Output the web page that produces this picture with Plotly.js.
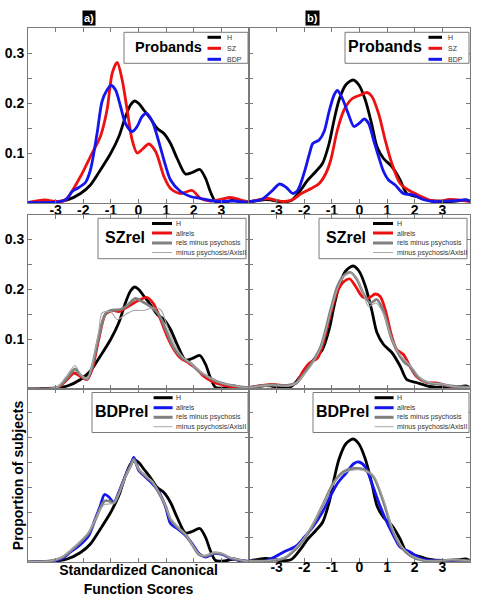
<!DOCTYPE html>
<html><head><meta charset="utf-8">
<script src="https://cdn.plot.ly/plotly-3.0.1.min.js"></script>
<style>html,body{margin:0;padding:0;background:#fff;} #chart{width:478px;height:599px;}</style>
</head><body><div id="chart"></div>
<script>
// ---------------- DATA ----------------
// Healthy controls, function a) (same curve shown in all left panels)
const Ha_x = [-4,-3.5,-3.0,-2.58,-2.1,-1.74,-1.38,-1.01,-0.71,-0.47,-0.29,-0.14,0.01,0.19,0.43,0.68,0.92,1.16,1.4,1.7,1.94,2.22,2.43,2.6,2.79,3.21,3.45,3.7,4];
const Ha_y = [0.001,0.001,0.002,0.006,0.019,0.036,0.066,0.099,0.133,0.173,0.196,0.204,0.199,0.186,0.169,0.149,0.139,0.119,0.089,0.058,0.061,0.067,0.049,0.023,0.003,0.003,0.006,0.002,0.001];
// Healthy controls, function b) (same curve shown in all right panels)
const Hb_x = [-4,-3.42,-3.19,-2.89,-2.47,-2.17,-1.87,-1.58,-1.34,-1.1,-0.92,-0.74,-0.5,-0.23,-0.02,0.21,0.45,0.63,0.87,1.17,1.47,1.71,2.06,2.54,3.02,3.5,3.85,4];
const Hb_y = [0.002,0.007,0.006,0.003,0.005,0.023,0.046,0.063,0.079,0.119,0.166,0.206,0.236,0.246,0.236,0.206,0.156,0.113,0.089,0.073,0.046,0.019,0.013,0.005,0.003,0.004,0.006,0.003];

// Probands a)
const SZa_x = [-4,-3.4,-2.95,-2.65,-2.1,-1.74,-1.38,-1.14,-0.95,-0.77,-0.59,-0.41,-0.23,-0.05,0.13,0.37,0.62,0.92,1.16,1.52,1.94,2.25,2.6,2.97,3.33,3.7,4];
const SZa_y = [0.001,0.006,0.003,0.006,0.053,0.093,0.133,0.186,0.26,0.281,0.246,0.186,0.126,0.10,0.107,0.118,0.103,0.053,0.029,0.019,0.025,0.009,0.004,0.007,0.011,0.006,0.002];
const BDPa_x = [-4,-2.83,-2.58,-2.4,-2.16,-1.92,-1.74,-1.5,-1.32,-1.14,-0.99,-0.83,-0.65,-0.47,-0.23,-0.05,0.13,0.29,0.5,0.68,0.92,1.16,1.52,1.88,2.25,2.6,2.97,3.45,4];
const BDPa_y = [0.001,0.003,0.009,0.023,0.031,0.041,0.066,0.139,0.203,0.226,0.235,0.226,0.193,0.159,0.143,0.153,0.173,0.179,0.163,0.133,0.086,0.046,0.023,0.013,0.009,0.005,0.003,0.004,0.001];
// Probands b)
const SZb_x = [-4,-3.31,-3.07,-2.71,-2.41,-2.11,-1.75,-1.46,-1.22,-1.04,-0.8,-0.56,-0.26,0.04,0.27,0.45,0.69,0.93,1.17,1.47,1.77,2.12,2.54,2.9,3.26,3.74,4];
const SZb_y = [0.002,0.009,0.006,0.003,0.007,0.019,0.029,0.039,0.059,0.086,0.146,0.186,0.209,0.216,0.221,0.213,0.179,0.126,0.079,0.039,0.026,0.016,0.006,0.004,0.007,0.005,0.003];
const BDPb_x = [-4,-3.54,-3.19,-2.89,-2.65,-2.41,-2.23,-1.99,-1.81,-1.69,-1.46,-1.28,-1.1,-0.92,-0.8,-0.62,-0.41,-0.2,-0.02,0.18,0.33,0.51,0.69,0.87,1.05,1.29,1.59,1.95,2.3,2.66,3.26,3.85,4];
const BDPb_y = [0.003,0.007,0.023,0.038,0.031,0.019,0.026,0.063,0.099,0.119,0.126,0.143,0.183,0.216,0.225,0.209,0.179,0.153,0.159,0.168,0.159,0.126,0.093,0.063,0.046,0.036,0.019,0.016,0.007,0.003,0.004,0.006,0.004];

// SZ relatives a)
const SZrelA_all_x = [-4,-2.95,-2.58,-2.34,-2.1,-1.86,-1.68,-1.44,-1.2,-0.95,-0.71,-0.47,-0.17,0.07,0.31,0.56,0.8,1.04,1.28,1.52,1.82,2.13,2.37,2.67,2.97,3.33,4];
const SZrelA_all_y = [0.001,0.002,0.019,0.032,0.025,0.019,0.039,0.099,0.149,0.157,0.155,0.162,0.172,0.179,0.183,0.169,0.139,0.105,0.079,0.062,0.052,0.039,0.025,0.015,0.009,0.005,0.002];
const SZrelA_mp_x = [-4,-2.95,-2.58,-2.3,-2.1,-1.86,-1.68,-1.44,-1.2,-1.01,-0.65,-0.41,-0.11,0.13,0.43,0.74,1.04,1.28,1.58,1.88,2.19,2.49,2.85,3.21,4];
const SZrelA_mp_y = [0.001,0.003,0.022,0.04,0.028,0.02,0.045,0.105,0.15,0.157,0.159,0.167,0.181,0.175,0.165,0.149,0.112,0.082,0.062,0.052,0.035,0.025,0.015,0.009,0.002];
const SZrelA_ax_x = [-4,-2.95,-2.58,-2.3,-2.1,-1.86,-1.68,-1.44,-1.32,-1.01,-0.77,-0.47,-0.17,0.19,0.5,0.8,1.04,1.34,1.64,1.94,2.25,2.6,3.0,3.4,4];
const SZrelA_ax_y = [0.001,0.004,0.028,0.047,0.03,0.02,0.048,0.115,0.152,0.155,0.139,0.149,0.157,0.157,0.162,0.159,0.125,0.085,0.062,0.049,0.035,0.022,0.012,0.007,0.002];
// SZ relatives b)
const SZrelB_all_x = [-4,-3.19,-2.59,-2.29,-2.05,-1.81,-1.52,-1.28,-1.04,-0.8,-0.56,-0.35,-0.14,0.1,0.33,0.57,0.75,0.93,1.17,1.35,1.59,1.83,2.06,2.42,2.78,3.14,3.62,4];
const SZrelB_all_y = [0.003,0.009,0.007,0.012,0.035,0.052,0.062,0.099,0.152,0.195,0.215,0.22,0.205,0.185,0.182,0.19,0.185,0.159,0.105,0.079,0.069,0.045,0.025,0.013,0.012,0.007,0.003,0.003];
const SZrelB_mp_x = [-4,-3.19,-2.59,-2.29,-1.99,-1.69,-1.4,-1.04,-0.8,-0.56,-0.32,-0.1,0.15,0.39,0.63,0.87,1.17,1.47,1.65,1.83,2.1,2.5,2.9,3.3,4];
const SZrelB_mp_y = [0.003,0.008,0.007,0.012,0.032,0.055,0.085,0.159,0.205,0.227,0.233,0.22,0.19,0.172,0.179,0.155,0.099,0.065,0.052,0.045,0.025,0.012,0.01,0.006,0.003];
const SZrelB_ax_x = [-4,-3.19,-2.59,-2.29,-1.99,-1.69,-1.4,-1.04,-0.8,-0.56,-0.32,-0.1,0.15,0.33,0.6,0.87,1.17,1.47,1.7,1.95,2.2,2.6,3.0,3.4,4];
const SZrelB_ax_y = [0.003,0.008,0.006,0.012,0.03,0.052,0.083,0.155,0.2,0.225,0.232,0.222,0.188,0.165,0.172,0.15,0.1,0.068,0.055,0.04,0.022,0.012,0.01,0.005,0.003];

// BDP relatives a)
const BDPrelA_x = [-4,-3.19,-2.77,-2.46,-2.1,-1.8,-1.56,-1.38,-1.23,-1.07,-0.89,-0.71,-0.47,-0.29,-0.17,0.01,0.25,0.5,0.74,0.98,1.16,1.4,1.7,1.94,2.19,2.43,2.73,3.03,3.33,4];
const BDPrelA_all_y = [0.001,0.001,0.007,0.02,0.035,0.053,0.087,0.113,0.135,0.13,0.119,0.14,0.173,0.193,0.209,0.183,0.17,0.157,0.14,0.11,0.077,0.067,0.053,0.037,0.017,0.01,0.017,0.015,0.007,0.001];
const BDPrelA_mp_y = [0.001,0.002,0.009,0.022,0.04,0.058,0.085,0.108,0.122,0.122,0.118,0.138,0.172,0.192,0.205,0.185,0.172,0.16,0.138,0.112,0.085,0.07,0.055,0.035,0.015,0.012,0.018,0.016,0.008,0.001];
const BDPrelA_ax_y = [0.001,0.002,0.01,0.024,0.042,0.06,0.085,0.105,0.115,0.116,0.118,0.135,0.17,0.19,0.203,0.186,0.173,0.161,0.14,0.112,0.088,0.072,0.055,0.035,0.016,0.013,0.019,0.017,0.009,0.001];
// BDP relatives b)
const BDPrelB_all_x = [-4,-3.42,-3.07,-2.71,-2.29,-1.99,-1.69,-1.34,-1.04,-0.8,-0.5,-0.2,-0.02,0.21,0.45,0.69,0.93,1.23,1.47,1.83,2.18,2.54,3.02,3.5,4];
const BDPrelB_all_y = [0.002,0.002,0.01,0.021,0.032,0.05,0.07,0.1,0.133,0.157,0.177,0.197,0.2,0.19,0.157,0.12,0.087,0.053,0.03,0.02,0.008,0.003,0.003,0.002,0.002];
const BDPrelB_x = [-4,-3.3,-2.71,-2.29,-1.99,-1.63,-1.28,-0.92,-0.56,-0.2,0.16,0.51,0.87,1.17,1.47,1.83,2.3,2.8,3.3,4];
const BDPrelB_mp_y = [0.002,0.002,0.008,0.027,0.047,0.08,0.12,0.16,0.181,0.187,0.185,0.17,0.12,0.067,0.033,0.013,0.003,0.002,0.004,0.002];
const BDPrelB_ax_y = [0.002,0.003,0.01,0.03,0.05,0.082,0.12,0.158,0.178,0.184,0.183,0.172,0.125,0.072,0.037,0.015,0.004,0.002,0.005,0.002];

const xTickVals = [-3,-2,-1,0,1,2,3];
const xTickText = ['-3','-2','-1','0','1','2','3'];
const yTickVals = [0.05,0.1,0.15,0.2,0.25,0.3];
const yTickText = ['','0.1','','0.2','','0.3'];
const panelTitles = ['Probands','Probands','SZrel','SZrel','BDPrel','BDPrel'];
const probandLabels = ['H','SZ','BDP'];
const relLabels = ['H','allrels','rels minus psychosis','minus psychosis/AxisII'];
const columnTags = ['a)','b)'];
const xTitle = 'Standardized Canonical<br>Function Scores';
const yTitle = 'Proportion of subjects';

// ---------------- STYLE ----------------
const BLACK='#000000', RED='#ee1111', BLUE='#1515ee', GRAY='#808080', LGRAY='#a8a8a8';
const FONT='Liberation Sans, Arial, sans-serif';
const W=478, H=599, ML=28, MR=8, MT=28, MB=37;
const PW=W-ML-MR, PH=H-MT-MB;
const colPx=[[28,249],[249,470]];
const rowPx=[[28,203,0.35],[214.5,389,0.349],[389,562,0.346]];

function S(x,y,color,width){return {x,y,color,width};}
const panelSeries = [
  [S(Ha_x,Ha_y,BLACK,2.8),S(SZa_x,SZa_y,RED,2.8),S(BDPa_x,BDPa_y,BLUE,2.8)],
  [S(Hb_x,Hb_y,BLACK,2.8),S(SZb_x,SZb_y,RED,2.8),S(BDPb_x,BDPb_y,BLUE,2.8)],
  [S(Ha_x,Ha_y,BLACK,2.8),S(SZrelA_all_x,SZrelA_all_y,RED,2.8),S(SZrelA_mp_x,SZrelA_mp_y,GRAY,2.8),S(SZrelA_ax_x,SZrelA_ax_y,LGRAY,1.1)],
  [S(Hb_x,Hb_y,BLACK,2.8),S(SZrelB_all_x,SZrelB_all_y,RED,2.8),S(SZrelB_mp_x,SZrelB_mp_y,GRAY,2.8),S(SZrelB_ax_x,SZrelB_ax_y,LGRAY,1.1)],
  [S(Ha_x,Ha_y,BLACK,2.8),S(BDPrelA_x,BDPrelA_all_y,BLUE,2.8),S(BDPrelA_x,BDPrelA_mp_y,GRAY,2.8),S(BDPrelA_x,BDPrelA_ax_y,LGRAY,1.1)],
  [S(Hb_x,Hb_y,BLACK,2.8),S(BDPrelB_all_x,BDPrelB_all_y,BLUE,2.8),S(BDPrelB_x,BDPrelB_mp_y,GRAY,2.8),S(BDPrelB_x,BDPrelB_ax_y,LGRAY,1.1)]
];

const traces=[], shapes=[], annotations=[];
const layout = {width:W,height:H,margin:{l:ML,r:MR,t:MT,b:MB},paper_bgcolor:'#fff',plot_bgcolor:'#fff',
  showlegend:false,font:{family:FONT,color:'#000'},shapes,annotations};

for(let i=0;i<6;i++){
  const row=Math.floor(i/2), col=i%2;
  const sfx = i===0?'':String(i+1);
  const xa='x'+sfx, ya='y'+sfx;
  const [x0,x1]=colPx[col]; const [y0,y1,ymax]=rowPx[row];
  const pw=x1-x0, ph=y1-y0;
  const showX = (row===0) || (row===2 && col===1);
  const showY = (col===0 && row<2);
  layout['xaxis'+sfx] = {domain:[(x0-ML)/PW,(x1-ML)/PW],anchor:ya,range:[-4,4],
    tickmode:'array',tickvals:xTickVals,ticktext:xTickText,showticklabels:showX,ticklabelstandoff:(row===0?-6:-8),
    ticks:'inside',ticklen:4,tickcolor:'#7a7a7a',tickwidth:1,showline:true,linecolor:'#7a7a7a',linewidth:1,mirror:'ticks',
    showgrid:false,zeroline:false,tickfont:{family:FONT,size:14,weight:'bold',color:'#000'}};
  layout['yaxis'+sfx] = {domain:[(H-MB-y1)/PH,(H-MB-y0)/PH],anchor:xa,range:[0,ymax],
    tickmode:'array',tickvals:yTickVals,ticktext:yTickText,showticklabels:showY,
    ticks:'inside',ticklen:4,tickcolor:'#7a7a7a',tickwidth:1,showline:true,linecolor:'#7a7a7a',linewidth:1,mirror:'ticks',
    showgrid:false,zeroline:false,tickfont:{family:FONT,size:14,weight:'bold',color:'#000'}};
  if(row===2 && col===0){
    layout['xaxis'+sfx].title={text:xTitle,font:{family:FONT,size:14,weight:'bold',color:'#000'},standoff:3};
    layout['yaxis'+sfx].title={text:yTitle,font:{family:FONT,size:14,weight:'bold',color:'#000'},standoff:0};
  }
  panelSeries[i].forEach(s=>traces.push({type:'scatter',mode:'lines',x:s.x,y:s.y,xaxis:xa,yaxis:ya,
    line:{color:s.color,width:s.width,shape:'spline',smoothing:0.8},hoverinfo:'skip'}));

  // legend box (drawn with shapes + annotations inside each panel)
  const R=x1, T=y0;
  let g;
  if(row===0) g={bl:R-125,br:R-1,bt:T+4.3,bb:T+35.3,tcx:(col===0?44.7:40),tcy:T+18.7,tsz:(col===0?14.5:16),
    lx0:83.5,lx1:97,ly:[T+9.3,T+20.3,T+31.3],tx:101.5};
  else if(row===1) g={bl:R-151,br:R-3,bt:T+3.8,bb:T+44.2,tcx:27,tcy:T+22.8,tsz:16,
    lx0:54,lx1:74,ly:[T+9,T+18.5,T+28.5,T+38],tx:76.5};
  else g={bl:R-157,br:R-1,bt:T+3.5,bb:T+43.5,tcx:29.5,tcy:T+22.7,tsz:16,
    lx0:61.6,lx1:80.6,ly:[T+8.7,T+18.7,T+28.3,T+37.7],tx:83};
  const fx=p=>(p-x0)/pw, fy=p=>(y1-p)/ph;
  const xr=xa+' domain', yr=ya+' domain';
  shapes.push({type:'rect',xref:xr,yref:yr,x0:fx(g.bl),x1:fx(g.br),y0:fy(g.bb),y1:fy(g.bt),
    fillcolor:'#fff',line:{color:'#7a7a7a',width:1},layer:'above'});
  annotations.push({xref:xr,yref:yr,x:fx(g.bl+g.tcx),y:fy(g.tcy),xanchor:'center',yanchor:'middle',showarrow:false,
    text:'<b>'+panelTitles[i]+'</b>',font:{family:FONT,size:g.tsz,color:'#000'}});
  const labels = row===0?probandLabels:relLabels;
  labels.forEach((lab,k)=>{
    const s=panelSeries[i][k];
    shapes.push({type:'line',xref:xr,yref:yr,x0:fx(g.bl+g.lx0),x1:fx(g.bl+g.lx1),y0:fy(g.ly[k]),y1:fy(g.ly[k]),
      line:{color:s.color,width:s.width>2?3:1},layer:'above'});
    annotations.push({xref:xr,yref:yr,x:fx(g.bl+g.tx),y:fy(g.ly[k]),xanchor:'left',yanchor:'middle',showarrow:false,
      text:lab,font:{family:FONT,size:7,color:'#333'},borderpad:0});
  });
}
// column tags a) b)
[88.5,312.3].forEach((cx,c)=>annotations.push({xref:'paper',yref:'paper',x:(cx-ML)/PW,y:(H-MB-17.5)/PH,
  xanchor:'center',yanchor:'middle',showarrow:false,text:'<b>'+columnTags[c]+'</b>',
  font:{family:FONT,size:11,color:'#fff'},bgcolor:'#000',borderpad:1}));

Plotly.newPlot('chart',traces,layout,{displayModeBar:false,staticPlot:true});
</script></body></html>
